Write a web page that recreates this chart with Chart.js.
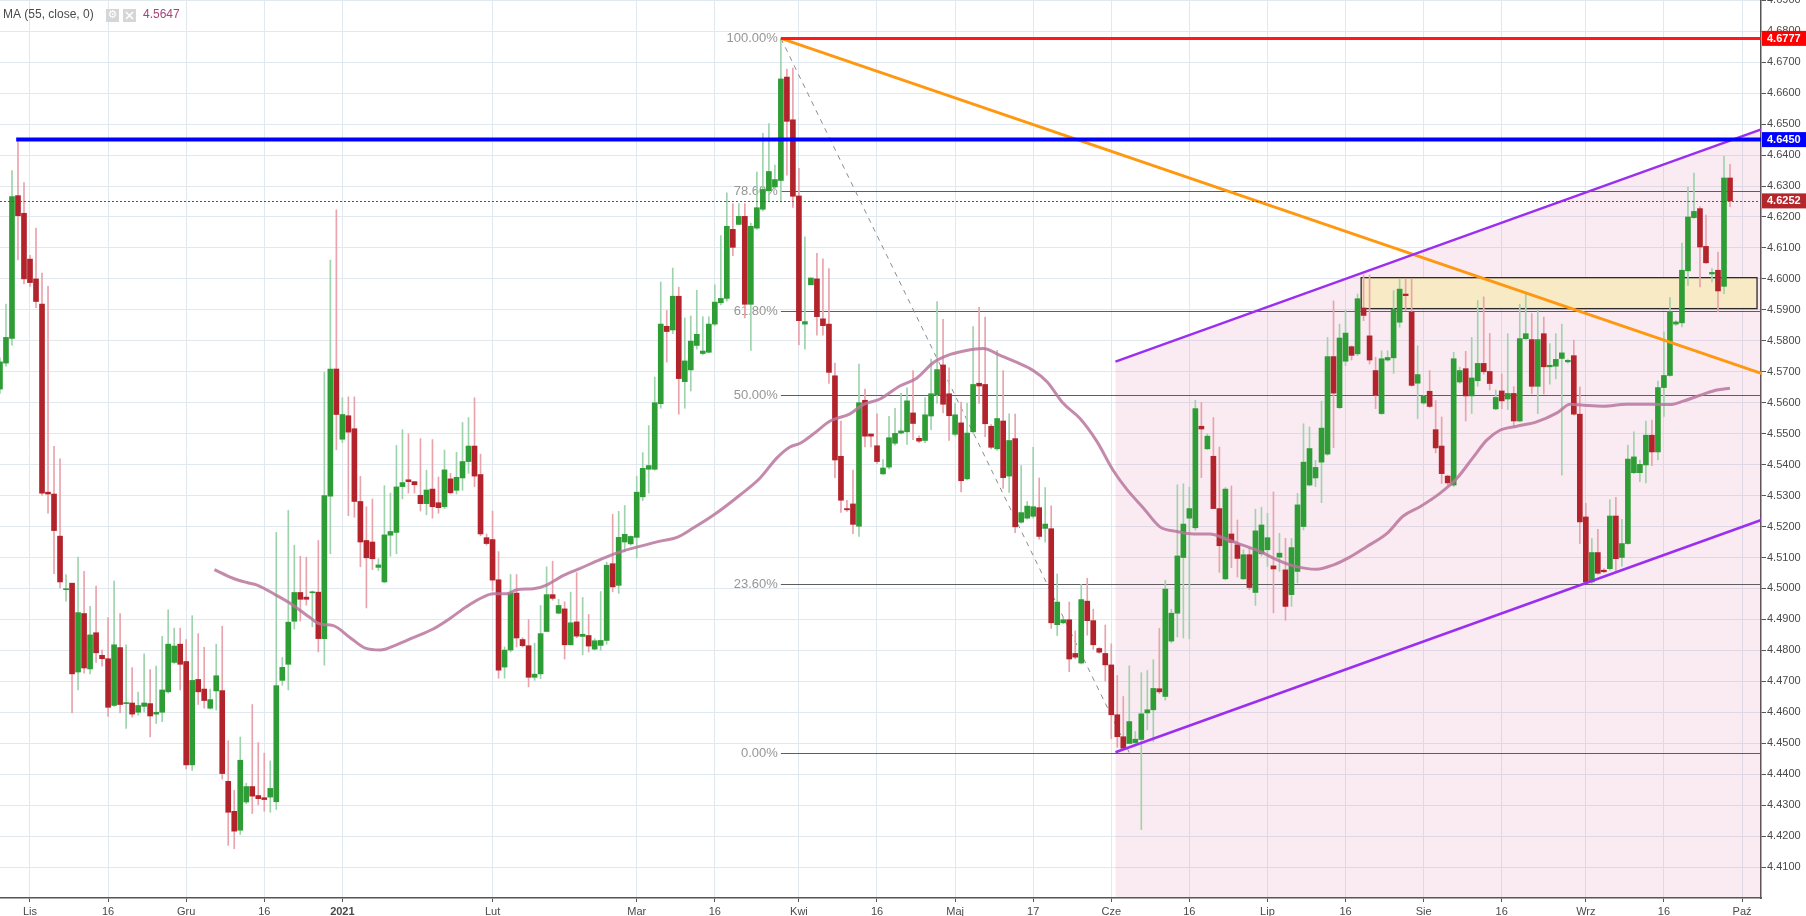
<!DOCTYPE html>
<html>
<head>
<meta charset="utf-8">
<script src="https://cdn.jsdelivr.net/npm/chart.js@4.4.1/dist/chart.umd.min.js"></script>
<style>
  html, body { margin: 0; padding: 0; background: #fff; }
  canvas { display: block; }
</style>
</head>
<body>
<canvas id="chart" width="1806" height="916"></canvas>
<script>
/* DATA - daily candles, bar index of the first one */
const firstBar = -5;

const opens = [
  4.5644, 4.5728, 4.5808, 4.6269, 4.6212, 4.6064, 4.6000, 4.5919, 4.5311, 4.5305,
  4.5169, 4.4996, 4.5017, 4.4730, 4.4919, 4.4740, 4.4857, 4.4784, 4.4773, 4.4622,
  4.4809, 4.4628, 4.4630, 4.4600, 4.4619, 4.4628, 4.4594, 4.4600, 4.4666, 4.4761,
  4.4820, 4.4764, 4.4430, 4.4706, 4.4675, 4.4613, 4.4669, 4.4670, 4.4377, 4.4280,
  4.4219, 4.4310, 4.4360, 4.4331, 4.4324, 4.4326, 4.4311, 4.4703, 4.4755, 4.4894,
  4.4987, 4.4972, 4.4986, 4.4988, 4.4838, 4.5298, 4.5709, 4.5482, 4.5558, 4.5516,
  4.5281, 4.5155, 4.5150, 4.5068, 4.5021, 4.5172, 4.5181, 4.5329, 4.5351, 4.5345,
  4.5301, 4.5274, 4.5321, 4.5277, 4.5264, 4.5354, 4.5317, 4.5357, 4.5410, 4.5460,
  4.5368, 4.5164, 4.5158, 4.5028, 4.4746, 4.4801, 4.4985, 4.4835, 4.4815, 4.4713,
  4.4724, 4.4861, 4.4980, 4.4920, 4.4934, 4.4818, 4.4892, 4.4845, 4.4848, 4.4804,
  4.4816, 4.4832, 4.5080, 4.5010, 4.5150, 4.5144, 4.5165, 4.5296, 4.5385, 4.5385,
  4.5597, 4.5847, 4.5835, 4.5944, 4.5668, 4.5706, 4.5785, 4.5759, 4.5763, 4.5854,
  4.5923, 4.5937, 4.6160, 4.6176, 4.6202, 4.5918, 4.6164, 4.6225, 4.6285, 4.6297,
  4.6318, 4.6652, 4.6514, 4.6268, 4.5854, 4.5981, 4.6000, 4.5871, 4.5854, 4.5687,
  4.5427, 4.5258, 4.5273, 4.5201, 4.5608, 4.5499, 4.5461, 4.5370, 4.5392, 4.5469,
  4.5502, 4.5506, 4.5567, 4.5485, 4.5478, 4.5557, 4.5626, 4.5722, 4.5629, 4.5498,
  4.5535, 4.5354, 4.5506, 4.5663, 4.5659, 4.5524, 4.5451, 4.5541, 4.5363, 4.5484,
  4.5214, 4.5227, 4.5233, 4.5261, 4.5194, 4.5193, 4.4883, 4.4889, 4.4899, 4.4790,
  4.4759, 4.4959, 4.4896, 4.4806, 4.4790, 4.4753, 4.4592, 4.4521, 4.4499, 4.4502,
  4.4512, 4.4598, 4.4608, 4.4676, 4.4651, 4.4830, 4.4920, 4.5100, 4.5227, 4.5196,
  4.5524, 4.5451, 4.5427, 4.5258, 4.5031, 4.5176, 4.5141, 4.5031, 4.5109, 4.4987,
  4.5112, 4.5125, 4.5073, 4.5101, 4.5060, 4.4980, 4.5055, 4.5200, 4.5334, 4.5357,
  4.5408, 4.5434, 4.5749, 4.5584, 4.5734, 4.5781, 4.5758, 4.5906, 4.5816, 4.5704,
  4.5565, 4.5738, 4.5745, 4.5860, 4.5951, 4.5893, 4.5663, 4.5599, 4.5637, 4.5513,
  4.5460, 4.5363, 4.5334, 4.5667, 4.5710, 4.5622, 4.5671, 4.5727, 4.5701, 4.5580,
  4.5638, 4.5612, 4.5630, 4.5541, 4.5807, 4.5804, 4.5653, 4.5823, 4.5716, 4.5718,
  4.5743, 4.5732, 4.5752, 4.5563, 4.5231, 4.5021, 4.5116, 4.5059, 4.5064, 4.5234,
  4.5100, 4.5145, 4.5374, 4.5374, 4.5399, 4.5495, 4.5441, 4.5649, 4.5688, 4.5854,
  4.5858, 4.6026, 4.6198, 4.6227, 4.6105, 4.6016, 4.6028, 4.5976, 4.6326
];
const highs = [
  4.5745, 4.5919, 4.6350, 4.6455, 4.6311, 4.6076, 4.6164, 4.6019, 4.5976, 4.5459,
  4.5419, 4.5045, 4.5017, 4.5101, 4.5055, 4.4942, 4.5008, 4.4801, 4.4906, 4.5024,
  4.4919, 4.4818, 4.4744, 4.4665, 4.4789, 4.4738, 4.4749, 4.4845, 4.4931, 4.4872,
  4.4872, 4.4835, 4.4912, 4.4854, 4.4810, 4.4675, 4.4820, 4.4878, 4.4508, 4.4348,
  4.4520, 4.4371, 4.4625, 4.4502, 4.4468, 4.4443, 4.5181, 4.4777, 4.5252, 4.5140,
  4.5104, 4.5101, 4.4992, 4.5155, 4.5698, 4.6061, 4.6223, 4.5616, 4.5619, 4.5619,
  4.5362, 4.5264, 4.5289, 4.5096, 4.5332, 4.5308, 4.5462, 4.5513, 4.5499, 4.5346,
  4.5484, 4.5382, 4.5481, 4.5360, 4.5447, 4.5372, 4.5440, 4.5536, 4.5552, 4.5616,
  4.5434, 4.5176, 4.5250, 4.5119, 4.4811, 4.5045, 4.5045, 4.4841, 4.4900, 4.4823,
  4.4945, 4.5070, 4.5088, 4.4965, 4.4957, 4.4988, 4.5051, 4.4971, 4.4916, 4.4838,
  4.4990, 4.5085, 4.5239, 4.5249, 4.5268, 4.5170, 4.5362, 4.5439, 4.5526, 4.5683,
  4.5990, 4.5898, 4.6035, 4.5973, 4.5874, 4.5880, 4.5963, 4.5878, 4.5878, 4.5981,
  4.6140, 4.6278, 4.6243, 4.6243, 4.6243, 4.6180, 4.6345, 4.6470, 4.6502, 4.6368,
  4.6777, 4.6678, 4.6681, 4.6357, 4.6136, 4.6003, 4.6083, 4.6065, 4.6033, 4.5728,
  4.5541, 4.5285, 4.5382, 4.5725, 4.5644, 4.5499, 4.5564, 4.5416, 4.5556, 4.5582,
  4.5630, 4.5648, 4.5704, 4.5493, 4.5617, 4.5741, 4.5927, 4.5869, 4.5713, 4.5598,
  4.5602, 4.5598, 4.5846, 4.5908, 4.5877, 4.5529, 4.5769, 4.5704, 4.5564, 4.5563,
  4.5397, 4.5281, 4.5456, 4.5357, 4.5326, 4.5267, 4.5047, 4.4909, 4.4956, 4.4863,
  4.5013, 4.5033, 4.4933, 4.4809, 4.4882, 4.4821, 4.4719, 4.4651, 4.4750, 4.4538,
  4.4728, 4.4735, 4.4770, 4.4871, 4.5026, 4.4933, 4.5335, 4.5338, 4.5327, 4.5608,
  4.5601, 4.5500, 4.5552, 4.5457, 4.5326, 4.5331, 4.5221, 4.5125, 4.5130, 4.5256,
  4.5262, 4.5243, 4.5312, 4.5178, 4.5162, 4.5162, 4.5307, 4.5532, 4.5522, 4.5414,
  4.5605, 4.5811, 4.5929, 4.5854, 4.5899, 4.5784, 4.5951, 4.6013, 4.6013, 4.5747,
  4.5768, 4.5768, 4.5962, 4.5999, 4.6000, 4.6000, 4.5784, 4.5624, 4.5704, 4.5607,
  4.5554, 4.5366, 4.5763, 4.5715, 4.5766, 4.5811, 4.5930, 4.5942, 4.5824, 4.5641,
  4.5693, 4.5823, 4.5652, 4.5918, 4.5953, 4.5888, 4.5899, 4.5877, 4.5791, 4.5823,
  4.5854, 4.5740, 4.5802, 4.5651, 4.5275, 4.5161, 4.5191, 4.5064, 4.5287, 4.5294,
  4.5223, 4.5463, 4.5506, 4.5415, 4.5541, 4.5544, 4.5670, 4.5829, 4.5940, 4.5865,
  4.6116, 4.6297, 4.6342, 4.6234, 4.6206, 4.6033, 4.6087, 4.6396, 4.6370
];
const lows = [
  4.5630, 4.5718, 4.5786, 4.6061, 4.5984, 4.5976, 4.5907, 4.5301, 4.5243, 4.5048,
  4.5002, 4.4959, 4.4598, 4.4672, 4.4726, 4.4724, 4.4761, 4.4749, 4.4587, 4.4619,
  4.4598, 4.4548, 4.4584, 4.4591, 4.4600, 4.4520, 4.4564, 4.4570, 4.4662, 4.4758,
  4.4672, 4.4417, 4.4412, 4.4625, 4.4613, 4.4610, 4.4607, 4.4384, 4.4170, 4.4159,
  4.4205, 4.4304, 4.4273, 4.4301, 4.4280, 4.4277, 4.4286, 4.4687, 4.4672, 4.4869,
  4.4895, 4.4946, 4.4876, 4.4795, 4.4752, 4.5112, 4.5448, 4.5471, 4.5235, 4.5230,
  4.5070, 4.4937, 4.5061, 4.5058, 4.5018, 4.5104, 4.5112, 4.5289, 4.5308, 4.5308,
  4.5250, 4.5238, 4.5227, 4.5243, 4.5258, 4.5305, 4.5305, 4.5317, 4.5372, 4.5329,
  4.5170, 4.5140, 4.4993, 4.4710, 4.4710, 4.4795, 4.4811, 4.4811, 4.4682, 4.4703,
  4.4709, 4.4860, 4.4962, 4.4918, 4.4772, 4.4817, 4.4841, 4.4786, 4.4795, 4.4801,
  4.4800, 4.4820, 4.4989, 4.4984, 4.5118, 4.5140, 4.5099, 4.5284, 4.5308, 4.5382,
  4.5582, 4.5731, 4.5823, 4.5563, 4.5582, 4.5638, 4.5773, 4.5755, 4.5761, 4.5849,
  4.5916, 4.5928, 4.6075, 4.6176, 4.5874, 4.5769, 4.6160, 4.6220, 4.6249, 4.6291,
  4.6249, 4.6335, 4.6231, 4.5787, 4.5773, 4.5981, 4.5818, 4.5818, 4.5662, 4.5358,
  4.5246, 4.5249, 4.5177, 4.5168, 4.5457, 4.5457, 4.5404, 4.5368, 4.5386, 4.5463,
  4.5499, 4.5465, 4.5481, 4.5471, 4.5471, 4.5513, 4.5598, 4.5567, 4.5478, 4.5493,
  4.5312, 4.5351, 4.5502, 4.5598, 4.5490, 4.5451, 4.5447, 4.5323, 4.5310, 4.5180,
  4.5211, 4.5224, 4.5227, 4.5159, 4.5150, 4.4871, 4.4848, 4.4886, 4.4731, 4.4772,
  4.4756, 4.4849, 4.4803, 4.4790, 4.4701, 4.4515, 4.4487, 4.4481, 4.4499, 4.4496,
  4.4221, 4.4543, 4.4505, 4.4660, 4.4639, 4.4824, 4.4843, 4.4840, 4.4837, 4.5188,
  4.5358, 4.5449, 4.5258, 4.5052, 4.5028, 4.5067, 4.5037, 4.5028, 4.4996, 4.4945,
  4.5105, 4.5071, 4.4921, 4.5055, 4.4897, 4.4942, 4.5018, 4.5189, 4.5331, 4.5329,
  4.5277, 4.5430, 4.5455, 4.5581, 4.5720, 4.5738, 4.5752, 4.5865, 4.5725, 4.5581,
  4.5562, 4.5734, 4.5695, 4.5844, 4.5897, 4.5653, 4.5548, 4.5595, 4.5584, 4.5438,
  4.5339, 4.5334, 4.5329, 4.5663, 4.5541, 4.5565, 4.5653, 4.5692, 4.5641, 4.5577,
  4.5581, 4.5578, 4.5522, 4.5538, 4.5804, 4.5629, 4.5565, 4.5628, 4.5660, 4.5677,
  4.5366, 4.5728, 4.5560, 4.5145, 4.5016, 4.5016, 4.5046, 4.5051, 4.5059, 4.5057,
  4.5072, 4.5143, 4.5371, 4.5345, 4.5341, 4.5397, 4.5415, 4.5556, 4.5686, 4.5850,
  4.5845, 4.5979, 4.6195, 4.5974, 4.6050, 4.5990, 4.5893, 4.5952, 4.6233
];
const closes = [
  4.5732, 4.5811, 4.6266, 4.6204, 4.6000, 4.5988, 4.5927, 4.5308, 4.5305, 4.5187,
  4.5021, 4.4998, 4.4724, 4.4922, 4.4743, 4.4850, 4.4792, 4.4773, 4.4616, 4.4818,
  4.4625, 4.4630, 4.4594, 4.4622, 4.4630, 4.4588, 4.4600, 4.4672, 4.4820, 4.4814,
  4.4755, 4.4430, 4.4703, 4.4666, 4.4638, 4.4641, 4.4718, 4.4402, 4.4277, 4.4216,
  4.4445, 4.4360, 4.4329, 4.4321, 4.4318, 4.4354, 4.4686, 4.4745, 4.4891, 4.4987,
  4.4965, 4.4965, 4.4988, 4.4838, 4.5300, 4.5709, 4.5562, 4.5562, 4.5505, 4.5281,
  4.5150, 4.5099, 4.5096, 4.5076, 4.5173, 4.5184, 4.5328, 4.5342, 4.5345, 4.5335,
  4.5274, 4.5318, 4.5264, 4.5261, 4.5383, 4.5309, 4.5359, 4.5410, 4.5460, 4.5363,
  4.5176, 4.5145, 4.5027, 4.4736, 4.4801, 4.4985, 4.4840, 4.4815, 4.4713, 4.4723,
  4.4854, 4.4980, 4.4968, 4.4945, 4.4818, 4.4889, 4.4846, 4.4852, 4.4814, 4.4831,
  4.4832, 4.5075, 4.5005, 4.5165, 4.5175, 4.5168, 4.5311, 4.5388, 4.5397, 4.5600,
  4.5854, 4.5830, 4.5944, 4.5678, 4.5735, 4.5799, 4.5821, 4.5767, 4.5854, 4.5925,
  4.5937, 4.6170, 4.6102, 4.6202, 4.5918, 4.6170, 4.6230, 4.6289, 4.6347, 4.6321,
  4.6646, 4.6509, 4.6267, 4.5865, 4.5862, 4.6003, 4.5878, 4.5849, 4.5698, 4.5415,
  4.5285, 4.5254, 4.5207, 4.5600, 4.5492, 4.5492, 4.5410, 4.5389, 4.5487, 4.5501,
  4.5509, 4.5606, 4.5533, 4.5476, 4.5561, 4.5629, 4.5707, 4.5595, 4.5558, 4.5561,
  4.5348, 4.5502, 4.5659, 4.5654, 4.5532, 4.5456, 4.5549, 4.5358, 4.5478, 4.5199,
  4.5245, 4.5266, 4.5264, 4.5168, 4.5208, 4.4889, 4.4956, 4.4899, 4.4772, 4.4778,
  4.4964, 4.4896, 4.4818, 4.4794, 4.4753, 4.4592, 4.4521, 4.4484, 4.4570, 4.4513,
  4.4595, 4.4608, 4.4677, 4.4666, 4.4998, 4.4920, 4.5105, 4.5208, 4.5258, 4.5581,
  4.5515, 4.5492, 4.5258, 4.5138, 4.5321, 4.5149, 4.5097, 4.5109, 4.5003, 4.5186,
  4.5205, 4.5164, 4.5063, 4.5114, 4.4942, 4.5132, 4.5270, 4.5408, 4.5452, 4.5391,
  4.5518, 4.5749, 4.5631, 4.5809, 4.5825, 4.5753, 4.5936, 4.5882, 4.5738, 4.5624,
  4.5742, 4.5746, 4.5902, 4.5967, 4.5946, 4.5656, 4.5691, 4.5622, 4.5588, 4.5454,
  4.5371, 4.5341, 4.5742, 4.5704, 4.5622, 4.5680, 4.5727, 4.5700, 4.5662, 4.5617,
  4.5606, 4.5630, 4.5541, 4.5807, 4.5823, 4.5653, 4.5804, 4.5716, 4.5721, 4.5740,
  4.5761, 4.5737, 4.5563, 4.5215, 4.5021, 4.5116, 4.5049, 4.5054, 4.5234, 4.5096,
  4.5145, 4.5418, 4.5425, 4.5401, 4.5495, 4.5441, 4.5649, 4.5688, 4.5895, 4.5861,
  4.6028, 4.6200, 4.6218, 4.6103, 4.6052, 4.6021, 4.5961, 4.6326, 4.6252
];

/* MA(55) */
const maIdx = [
  30.7, 33.8, 36.1, 37.8, 41.1, 43.8, 46.6, 48.3, 50.5, 53.3,
  55.8, 58.3, 61.0, 63.8, 67.1, 69.9, 72.7, 75.5, 77.1, 79.4,
  81.0, 83.8, 86.0, 88.8, 91.6, 94.9, 98.2, 101.5, 104.9, 107.7,
  110.4, 113.8, 118.2, 121.5, 124.3, 126.5, 128.2, 130.4, 133.2, 136.5,
  138.7, 141.5, 144.8, 147.6, 150.4, 153.2, 155.9, 158.7, 161.5, 164.3,
  167.0, 169.3, 172.0, 174.8, 177.6, 180.3, 182.6, 185.3, 188.1, 190.9,
  193.7, 196.4, 199.2, 202.0, 204.8, 207.5, 210.3, 214.2, 217.0, 219.7,
  222.5, 225.9, 228.6, 231.4, 234.7, 237.5, 240.3, 242.5, 244.7, 247.5,
  250.8, 254.2, 256.4, 258.6, 261.9, 265.8, 269.7, 273.0, 275.2, 278.6,
  280.8, 283
];
const maVal = [
  4.5061, 4.5033, 4.5019, 4.5011, 4.4977, 4.4946, 4.4906, 4.4885, 4.4880, 4.4841,
  4.4807, 4.4801, 4.4818, 4.4841, 4.4869, 4.4903, 4.4942, 4.4973, 4.4983, 4.4983,
  4.4996, 4.4999, 4.5011, 4.5042, 4.5065, 4.5093, 4.5118, 4.5136, 4.5153, 4.5165,
  4.5195, 4.5237, 4.5302, 4.5356, 4.5421, 4.5457, 4.5469, 4.5499, 4.5541, 4.5564,
  4.5594, 4.5612, 4.5654, 4.5679, 4.5730, 4.5756, 4.5769, 4.5775, 4.5753, 4.5730,
  4.5704, 4.5668, 4.5598, 4.5549, 4.5475, 4.5382, 4.5320, 4.5261, 4.5199, 4.5184,
  4.5176, 4.5176, 4.5159, 4.5139, 4.5119, 4.5093, 4.5073, 4.5062, 4.5076, 4.5101,
  4.5135, 4.5178, 4.5234, 4.5264, 4.5307, 4.5355, 4.5425, 4.5479, 4.5511, 4.5524,
  4.5538, 4.5567, 4.5595, 4.5592, 4.5589, 4.5595, 4.5595, 4.5594, 4.5605, 4.5628,
  4.5641, 4.5647
];

/* AXES */
const xTickIdx = [0, 13, 26, 39, 52, 77, 101, 114, 128, 141, 154, 167, 180, 193, 206, 219, 232, 245, 259, 272, 285];
const xTickText = ["Lis", "16", "Gru", "16", "2021", "Lut", "Mar", "16", "Kwi", "16", "Maj", "17", "Cze", "16", "Lip", "16", "Sie", "16", "Wrz", "16", "Paź"];
const yTicks = [];
for (let k = 441; k <= 469; k++) yTicks.push(k / 100);

/* DRAWINGS (bar index, price) */
const fibHigh = [125, 4.6777];
const fibLow = [183, 4.4470];
const fibLevels = [1, 0.786, 0.618, 0.5, 0.236, 0];
const orangeLine = [[125, 4.6777], [288.2, 4.5695]];
const channelUpper = [[180.7, 4.5733], [288.2, 4.6483]];
const channelLower = [[180.7, 4.4471], [288.2, 4.5221]];
const zoneBox = [221.6, 287.5, 4.5904, 4.6004];
const redLevel = [125, 4.6777];
const blueLevel = [-2.3, 4.6450];
const lastClose = closes[closes.length - 1];

/* COLORS */
const upBody = "#2f9d36", downBody = "#b2232b";
const upWick = "#9fd3ad", downWick = "#e9a3ac";
const FONT = "Liberation Sans";

const bodies = [], wicks = [], bodyCol = [], wickCol = [];
for (let k = 0; k < opens.length; k++) {
  const i = firstBar + k;
  const up = closes[k] >= opens[k];
  bodies.push({ x: i, y: [opens[k], closes[k]] });
  wicks.push({ x: i, y: [lows[k], highs[k]] });
  bodyCol.push(up ? upBody : downBody);
  wickCol.push(up ? upWick : downWick);
}
const maData = maIdx.map((v, k) => ({ x: v, y: maVal[k] }));

function seg(ctx, X, Y, p, q) {
  ctx.beginPath();
  ctx.moveTo(X(p[0]), Y(p[1]));
  ctx.lineTo(X(q[0]), Y(q[1]));
  ctx.stroke();
}

const drawings = {
  id: "drawings",
  beforeDatasetsDraw(chart) {
    const { ctx, chartArea: a, scales } = chart;
    const X = v => scales.x.getPixelForValue(v), Y = v => scales.y.getPixelForValue(v);
    ctx.save();
    ctx.beginPath();
    ctx.rect(a.left, a.top, a.right - a.left, a.bottom - a.top);
    ctx.clip();

    // channel background
    ctx.fillStyle = "rgba(205, 70, 140, 0.11)";
    ctx.beginPath();
    ctx.moveTo(X(channelUpper[0][0]), Y(channelUpper[0][1]));
    ctx.lineTo(X(channelUpper[1][0]), Y(channelUpper[1][1]));
    ctx.lineTo(X(channelUpper[1][0]), a.bottom);
    ctx.lineTo(X(channelUpper[0][0]), a.bottom);
    ctx.closePath();
    ctx.fill();

    // zone box
    const bx = X(zoneBox[0]), bw = X(zoneBox[1]) - bx;
    const by = Y(zoneBox[3]), bh = Y(zoneBox[2]) - by;
    ctx.fillStyle = "rgba(247, 234, 192, 0.92)";
    ctx.fillRect(bx, by, bw, bh);
    ctx.strokeStyle = "#2b2b2b";
    ctx.lineWidth = 1.3;
    ctx.strokeRect(bx, by, bw, bh);

    // fib retracement
    ctx.font = "13px '" + FONT + "'";
    ctx.textAlign = "right";
    ctx.textBaseline = "middle";
    fibLevels.forEach(l => {
      const p = fibLow[1] + l * (fibHigh[1] - fibLow[1]);
      const yy = Math.round(Y(p)) + 0.5;
      ctx.strokeStyle = "#5e5e5e";
      ctx.lineWidth = 1;
      ctx.beginPath();
      ctx.moveTo(X(fibHigh[0]), yy);
      ctx.lineTo(a.right, yy);
      ctx.stroke();
      ctx.fillStyle = "#969696";
      ctx.fillText((l * 100).toFixed(2) + "%", X(fibHigh[0]) - 3, yy);
    });
    ctx.strokeStyle = "#8c8c8c";
    ctx.lineWidth = 1;
    ctx.setLineDash([5, 5]);
    seg(ctx, X, Y, fibHigh, fibLow);
    ctx.setLineDash([]);
    ctx.restore();
  },
  afterDatasetsDraw(chart) {
    const { ctx, chartArea: a, scales } = chart;
    const X = v => scales.x.getPixelForValue(v), Y = v => scales.y.getPixelForValue(v);
    ctx.save();
    ctx.beginPath();
    ctx.rect(a.left, a.top, a.right - a.left, a.bottom - a.top);
    ctx.clip();

    // orange trend line
    ctx.strokeStyle = "#ff9810";
    ctx.lineWidth = 3;
    seg(ctx, X, Y, orangeLine[0], orangeLine[1]);

    // channel
    ctx.strokeStyle = "#9b2ff0";
    ctx.lineWidth = 2.5;
    seg(ctx, X, Y, channelUpper[0], channelUpper[1]);
    seg(ctx, X, Y, channelLower[0], channelLower[1]);

    // blue level
    ctx.strokeStyle = "#0000ff";
    ctx.lineWidth = 4;
    ctx.beginPath();
    ctx.moveTo(X(blueLevel[0]), Y(blueLevel[1]));
    ctx.lineTo(a.right, Y(blueLevel[1]));
    ctx.stroke();

    // red level
    ctx.strokeStyle = "#ff1a1a";
    ctx.lineWidth = 3;
    ctx.beginPath();
    ctx.moveTo(X(redLevel[0]), Y(redLevel[1]));
    ctx.lineTo(a.right, Y(redLevel[1]));
    ctx.stroke();

    // last price
    const ly = Math.round(Y(lastClose)) + 0.5;
    ctx.strokeStyle = "#c0272d";
    ctx.lineWidth = 1;
    ctx.setLineDash([2, 2]);
    ctx.beginPath();
    ctx.moveTo(a.left, ly);
    ctx.lineTo(a.right, ly);
    ctx.stroke();
    ctx.setLineDash([]);
    ctx.restore();
  },
  afterDraw(chart) {
    const { ctx, chartArea: a, scales } = chart;
    const Y = v => scales.y.getPixelForValue(v);
    ctx.save();
    // price tags on the axis
    const tags = [[redLevel[1], "#ff0000"], [blueLevel[1], "#0000ff"], [lastClose, "#b3262c"]];
    ctx.font = "bold 11px '" + FONT + "'";
    ctx.textAlign = "left";
    ctx.textBaseline = "middle";
    tags.forEach(t => {
      const yy = Y(t[0]);
      ctx.fillStyle = t[1];
      ctx.fillRect(a.right + 1, yy - 7.5, chart.width - a.right - 1, 15);
      ctx.fillStyle = "#fff";
      ctx.fillText(t[0].toFixed(4), a.right + 6, yy + 0.5);
    });

    // indicator legend
    ctx.font = "12px '" + FONT + "'";
    ctx.fillStyle = "#4a4a4a";
    ctx.fillText("MA (55, close, 0)", 3, 15);
    ctx.fillStyle = "#d6d6d6";
    ctx.fillRect(106, 9, 13, 13);
    ctx.fillRect(123, 9, 13, 13);
    ctx.fillStyle = "#fff";
    ctx.font = "11px 'DejaVu Sans'";
    ctx.textAlign = "center";
    ctx.fillText("\u2699", 112.5, 15.5);
    ctx.strokeStyle = "#fff";
    ctx.lineWidth = 1.5;
    ctx.beginPath();
    ctx.moveTo(126, 12); ctx.lineTo(133, 19);
    ctx.moveTo(133, 12); ctx.lineTo(126, 19);
    ctx.stroke();
    ctx.textAlign = "left";
    ctx.font = "12px '" + FONT + "'";
    ctx.fillStyle = "#a8437a";
    ctx.fillText(maVal[maVal.length - 1].toFixed(4), 143, 15);
    ctx.restore();
  }
};

new Chart(document.getElementById("chart"), {
  type: "bar",
  data: {
    datasets: [
      {
        type: "line",
        label: "MA",
        data: maData,
        borderColor: "rgba(186, 118, 158, 0.85)",
        borderWidth: 3,
        pointRadius: 0,
        cubicInterpolationMode: "monotone",
        order: 0
      },
      {
        label: "body",
        data: bodies,
        backgroundColor: bodyCol,
        barThickness: 5,
        minBarLength: 1,
        grouped: false,
        borderWidth: 0,
        order: 1
      },
      {
        label: "wick",
        data: wicks,
        backgroundColor: wickCol,
        barThickness: 1,
        minBarLength: 1,
        grouped: false,
        borderWidth: 0,
        order: 2
      }
    ]
  },
  options: {
    responsive: false,
    devicePixelRatio: 1,
    animation: false,
    layout: { padding: 0 },
    plugins: { legend: { display: false }, tooltip: { enabled: false } },
    scales: {
      x: {
        type: "linear",
        position: "bottom",
        min: -4.994,
        max: 288.16,
        offset: false,
        grid: { offset: false, color: "#e1e9ef", tickColor: "#555", tickLength: 4 },
        border: { color: "#555", width: 1.5 },
        ticks: {
          autoSkip: false,
          maxRotation: 0,
          minRotation: 0,
          padding: 3,
          color: "#4a4a4a",
          font: ctx => ({ family: FONT, size: 11, weight: ctx.tick && ctx.tick.value === 52 ? "bold" : "normal" }),
          callback: (v, k) => xTickText[k]
        },
        afterBuildTicks: s => { s.ticks = xTickIdx.map(v => ({ value: v })); },
        afterFit: s => { s.height = 18; s.paddingLeft = 0; s.paddingRight = 0; }
      },
      y: {
        type: "linear",
        position: "right",
        min: 4.4000,
        max: 4.6901,
        beginAtZero: false,
        grid: { color: "#e1e9ef", tickColor: "#555", tickLength: 5 },
        border: { color: "#555", width: 1.5 },
        ticks: {
          padding: 1,
          color: "#4a4a4a",
          font: { family: FONT, size: 11 },
          callback: v => Number(v).toFixed(4)
        },
        afterBuildTicks: s => { s.ticks = yTicks.map(v => ({ value: v })); },
        afterFit: s => { s.width = 45; s.paddingTop = 0; s.paddingBottom = 0; }
      }
    }
  },
  plugins: [drawings]
});
</script>
</body>
</html>
